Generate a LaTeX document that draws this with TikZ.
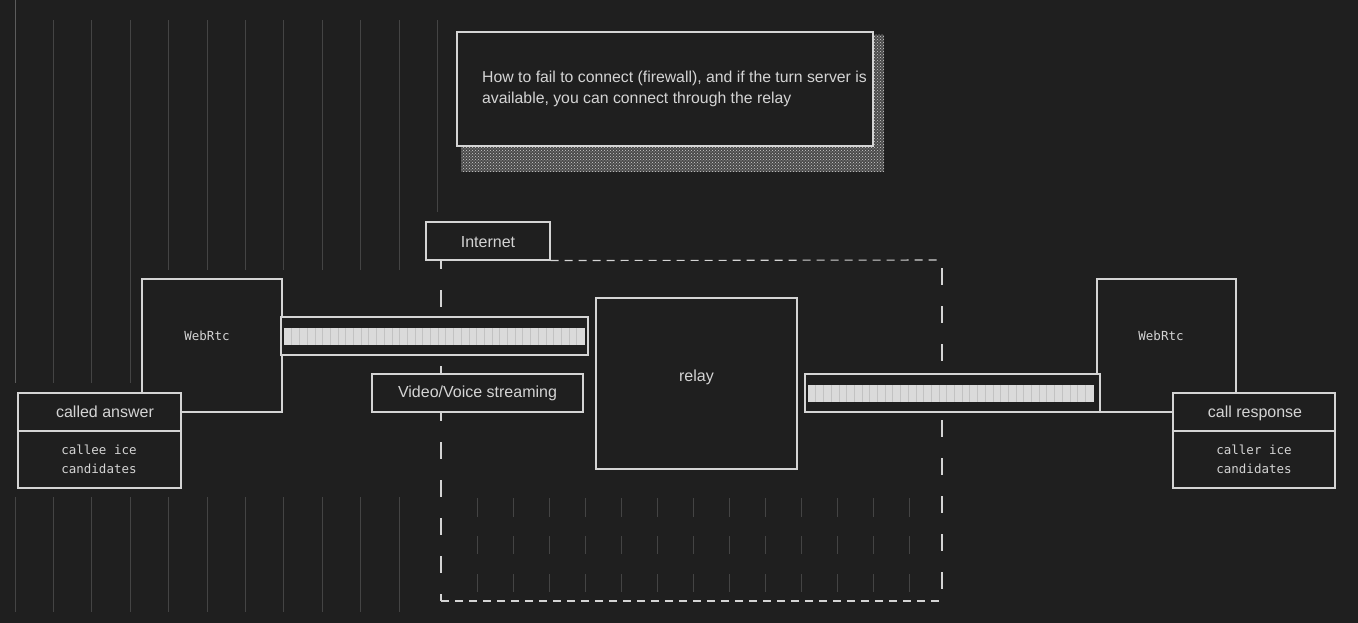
\documentclass[tikz,border=0pt]{standalone}
\usepackage{fontspec}
\setmainfont{Liberation Sans}
\newfontfamily\monofont{DejaVu Sans Mono}
\usetikzlibrary{patterns}
\definecolor{bg}{HTML}{1F1F1F}
\definecolor{fg}{HTML}{D4D4D4}
\definecolor{faint}{HTML}{444444}
\definecolor{faintb}{HTML}{5C5C5C}
\definecolor{barfill}{HTML}{DADADA}
\definecolor{barcell}{HTML}{C2C2C2}
\definecolor{shade}{HTML}{D0D0D0}
\definecolor{shadebg}{HTML}{4A4A4A}
\begin{document}
\begin{tikzpicture}[x=1pt,y=-1pt,
  box/.style={draw=fg, line width=1.1pt, fill=bg, rectangle, inner sep=0pt},
  bar/.style={fill=barfill, draw=none, rectangle, inner sep=0pt},
  lbl/.style={text=fg, font=\fontsize{16}{21}\selectfont, inner sep=0pt, anchor=base},
  mono/.style={text=fg, font=\monofont\fontsize{12.5}{19}\selectfont, inner sep=0pt, align=center},
  gridline/.style={draw=faint, line width=0.9pt},
  cell/.style={draw=barcell, line width=0.6pt},
  dashv/.style={draw=fg, line width=1.1pt, dash pattern=on 17pt off 21pt},
  dashh/.style={draw=fg, line width=1.1pt, dash pattern=on 8pt off 6pt},
  conn/.style={draw=fg, line width=1.1pt},
  shadow/.style={fill=shadebg, postaction={pattern=crosshatch dots, pattern color=shade}},
]
% background and bounds
\fill[bg] (0,0) rectangle (1358,623);
\useasboundingbox (0,0) rectangle (1358,623);

% faint column lines (left)
\draw[draw=faintb, line width=0.9pt] (15,0) -- (15,383);
\foreach \k in {1,2,3} \draw[gridline] ({15+38.4*\k},20) -- ({15+38.4*\k},383);
\foreach \k in {4,...,10} \draw[gridline] ({15+38.4*\k},20) -- ({15+38.4*\k},270);
\draw[gridline] (437.4,20) -- (437.4,212);
\foreach \k in {0,...,10} \draw[gridline] ({15+38.4*\k},497) -- ({15+38.4*\k},612);
% faint grid inside dashed region
\foreach \k in {0,...,12} {
  \draw[gridline] ({477+36*\k},498) -- ({477+36*\k},517);
  \draw[gridline] ({477+36*\k},536) -- ({477+36*\k},554);
  \draw[gridline] ({477+36*\k},574) -- ({477+36*\k},592);
}

% note with shadow
\fill[shadow] (461,146) rectangle (884,172);
\fill[shadow] (873,35) rectangle (884,146);
\node[box, minimum width=416, minimum height=114] (note) at (665,89) {};
\node[text=fg, font=\fontsize{15.8}{21}\selectfont, inner sep=0pt, align=left, anchor=west] (notetext) at (482,88.5)
  {How to fail to connect (firewall), and if the turn server is\\available, you can connect through the relay};

% Internet box and dashed region
\node[box, minimum width=124, minimum height=38] (inet) at (488,241) {};
\node[lbl] (inettext) at (488,247) {Internet};
\coordinate (dtr) at (942,260);
\coordinate (dbr) at (942,601);
\coordinate (dbl) at (441,601);
\coordinate (dtl) at (441,260);
\draw[dashh] (inet.south east) -- (dtr);
\draw[dashv, dash phase=30pt] (dtr) -- (dbr);
\draw[dashh] (dbl) -- (dbr);
\draw[dashv, dash phase=8pt] (dtl) -- (dbl);

% WebRtc boxes
\node[box, minimum width=140, minimum height=133] (wl) at (212,345.5) {};
\node[mono] (wltext) at (207,336) {WebRtc};
\node[box, minimum width=139, minimum height=133] (wr) at (1166.5,345.5) {};
\node[mono] (wrtext) at (1161,336) {WebRtc};

% left stream bar
\node[box, minimum width=307, minimum height=38] (sbl) at (434.5,336) {};
\node[bar, minimum width=301, minimum height=17] (barl) at (434.5,336.5) {};
\foreach \i in {1,...,38} \draw[cell] ({284+7.7*\i},328) -- ({284+7.7*\i},345);

% video/voice box
\node[box, minimum width=211, minimum height=38] (vv) at (477.5,393) {};
\node[lbl] (vvtext) at (477.5,397) {Video/Voice streaming};

% relay
\node[box, minimum width=201, minimum height=171] (relay) at (696.5,383.5) {};
\node[lbl] (relaytext) at (696.5,381) {relay};

% right stream bar
\node[box, minimum width=295, minimum height=38] (sbr) at (952.5,393) {};
\node[bar, minimum width=286, minimum height=17] (barr) at (951,393.5) {};
\foreach \i in {1,...,36} \draw[cell] ({808+7.7*\i},385) -- ({808+7.7*\i},402);

% called answer
\node[box, minimum width=163, minimum height=95] (ca) at (99.5,440.5) {};
\draw[conn] (ca.west |- 0,431) -- (ca.east |- 0,431);
\node[lbl] (catext) at (105,417) {called answer};
\node[mono] (catext2) at (99,459.5) {callee ice\\candidates};

% call response
\node[box, minimum width=162, minimum height=95] (cr) at (1254,440.5) {};
\draw[conn] (cr.west |- 0,431) -- (cr.east |- 0,431);
\node[lbl] (crtext) at (1255,417) {call response};
\node[mono] (crtext2) at (1254,459.5) {caller ice\\candidates};
\end{tikzpicture}
\end{document}
